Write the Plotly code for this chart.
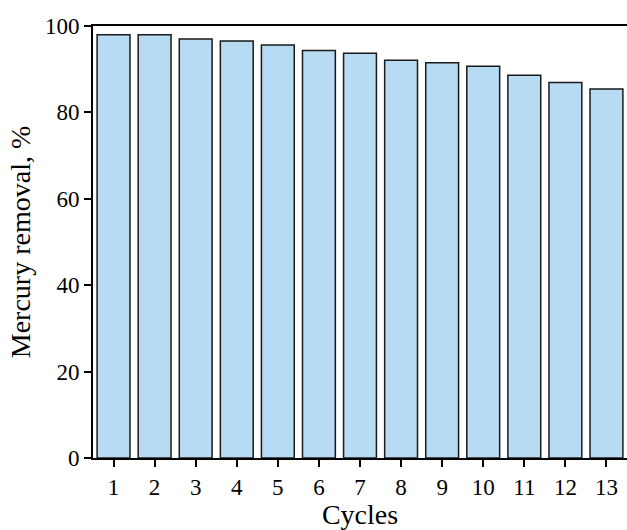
import plotly.graph_objects as go

cycles = list(range(1, 14))
removal = [98.0, 98.0, 97.0, 96.5, 95.6, 94.3, 93.7, 92.1, 91.5, 90.7, 88.6, 86.9, 85.4]
y_ticks = [0, 20, 40, 60, 80, 100]

font = "Liberation Serif, Times New Roman, serif"

fig = go.Figure(go.Bar(
    x=cycles, y=removal, width=0.8,
    marker=dict(color="#B6DBF2", line=dict(color="#1a1a1a", width=1.5)),
))

fig.update_layout(
    width=627, height=530,
    margin=dict(l=93, r=0, t=26, b=72),
    plot_bgcolor="white", paper_bgcolor="white",
    font=dict(family=font, size=23, color="black"),
    showlegend=False,
    bargap=0.2,
)
fig.update_xaxes(
    range=[0.5, 13.5], tickvals=cycles, ticktext=[str(c) for c in cycles],
    showline=True, linecolor="black", linewidth=2, mirror=True,
    ticks="outside", ticklen=7, tickwidth=1.5, tickcolor="black",
    showgrid=False, zeroline=False,
    title=dict(text="Cycles", font=dict(size=28), standoff=0),
)
fig.update_yaxes(
    range=[0, 100], tickvals=y_ticks,
    showline=True, linecolor="black", linewidth=2,
    ticks="outside", ticklen=7, tickwidth=1.5, tickcolor="black",
    showgrid=False, zeroline=False,
    title=dict(text="Mercury removal, %", font=dict(size=28), standoff=6),
)

fig.write_html(
    "out.html",
    config={"displayModeBar": False},
    post_script="document.body.style.margin='0';document.body.style.padding='0';",
)
